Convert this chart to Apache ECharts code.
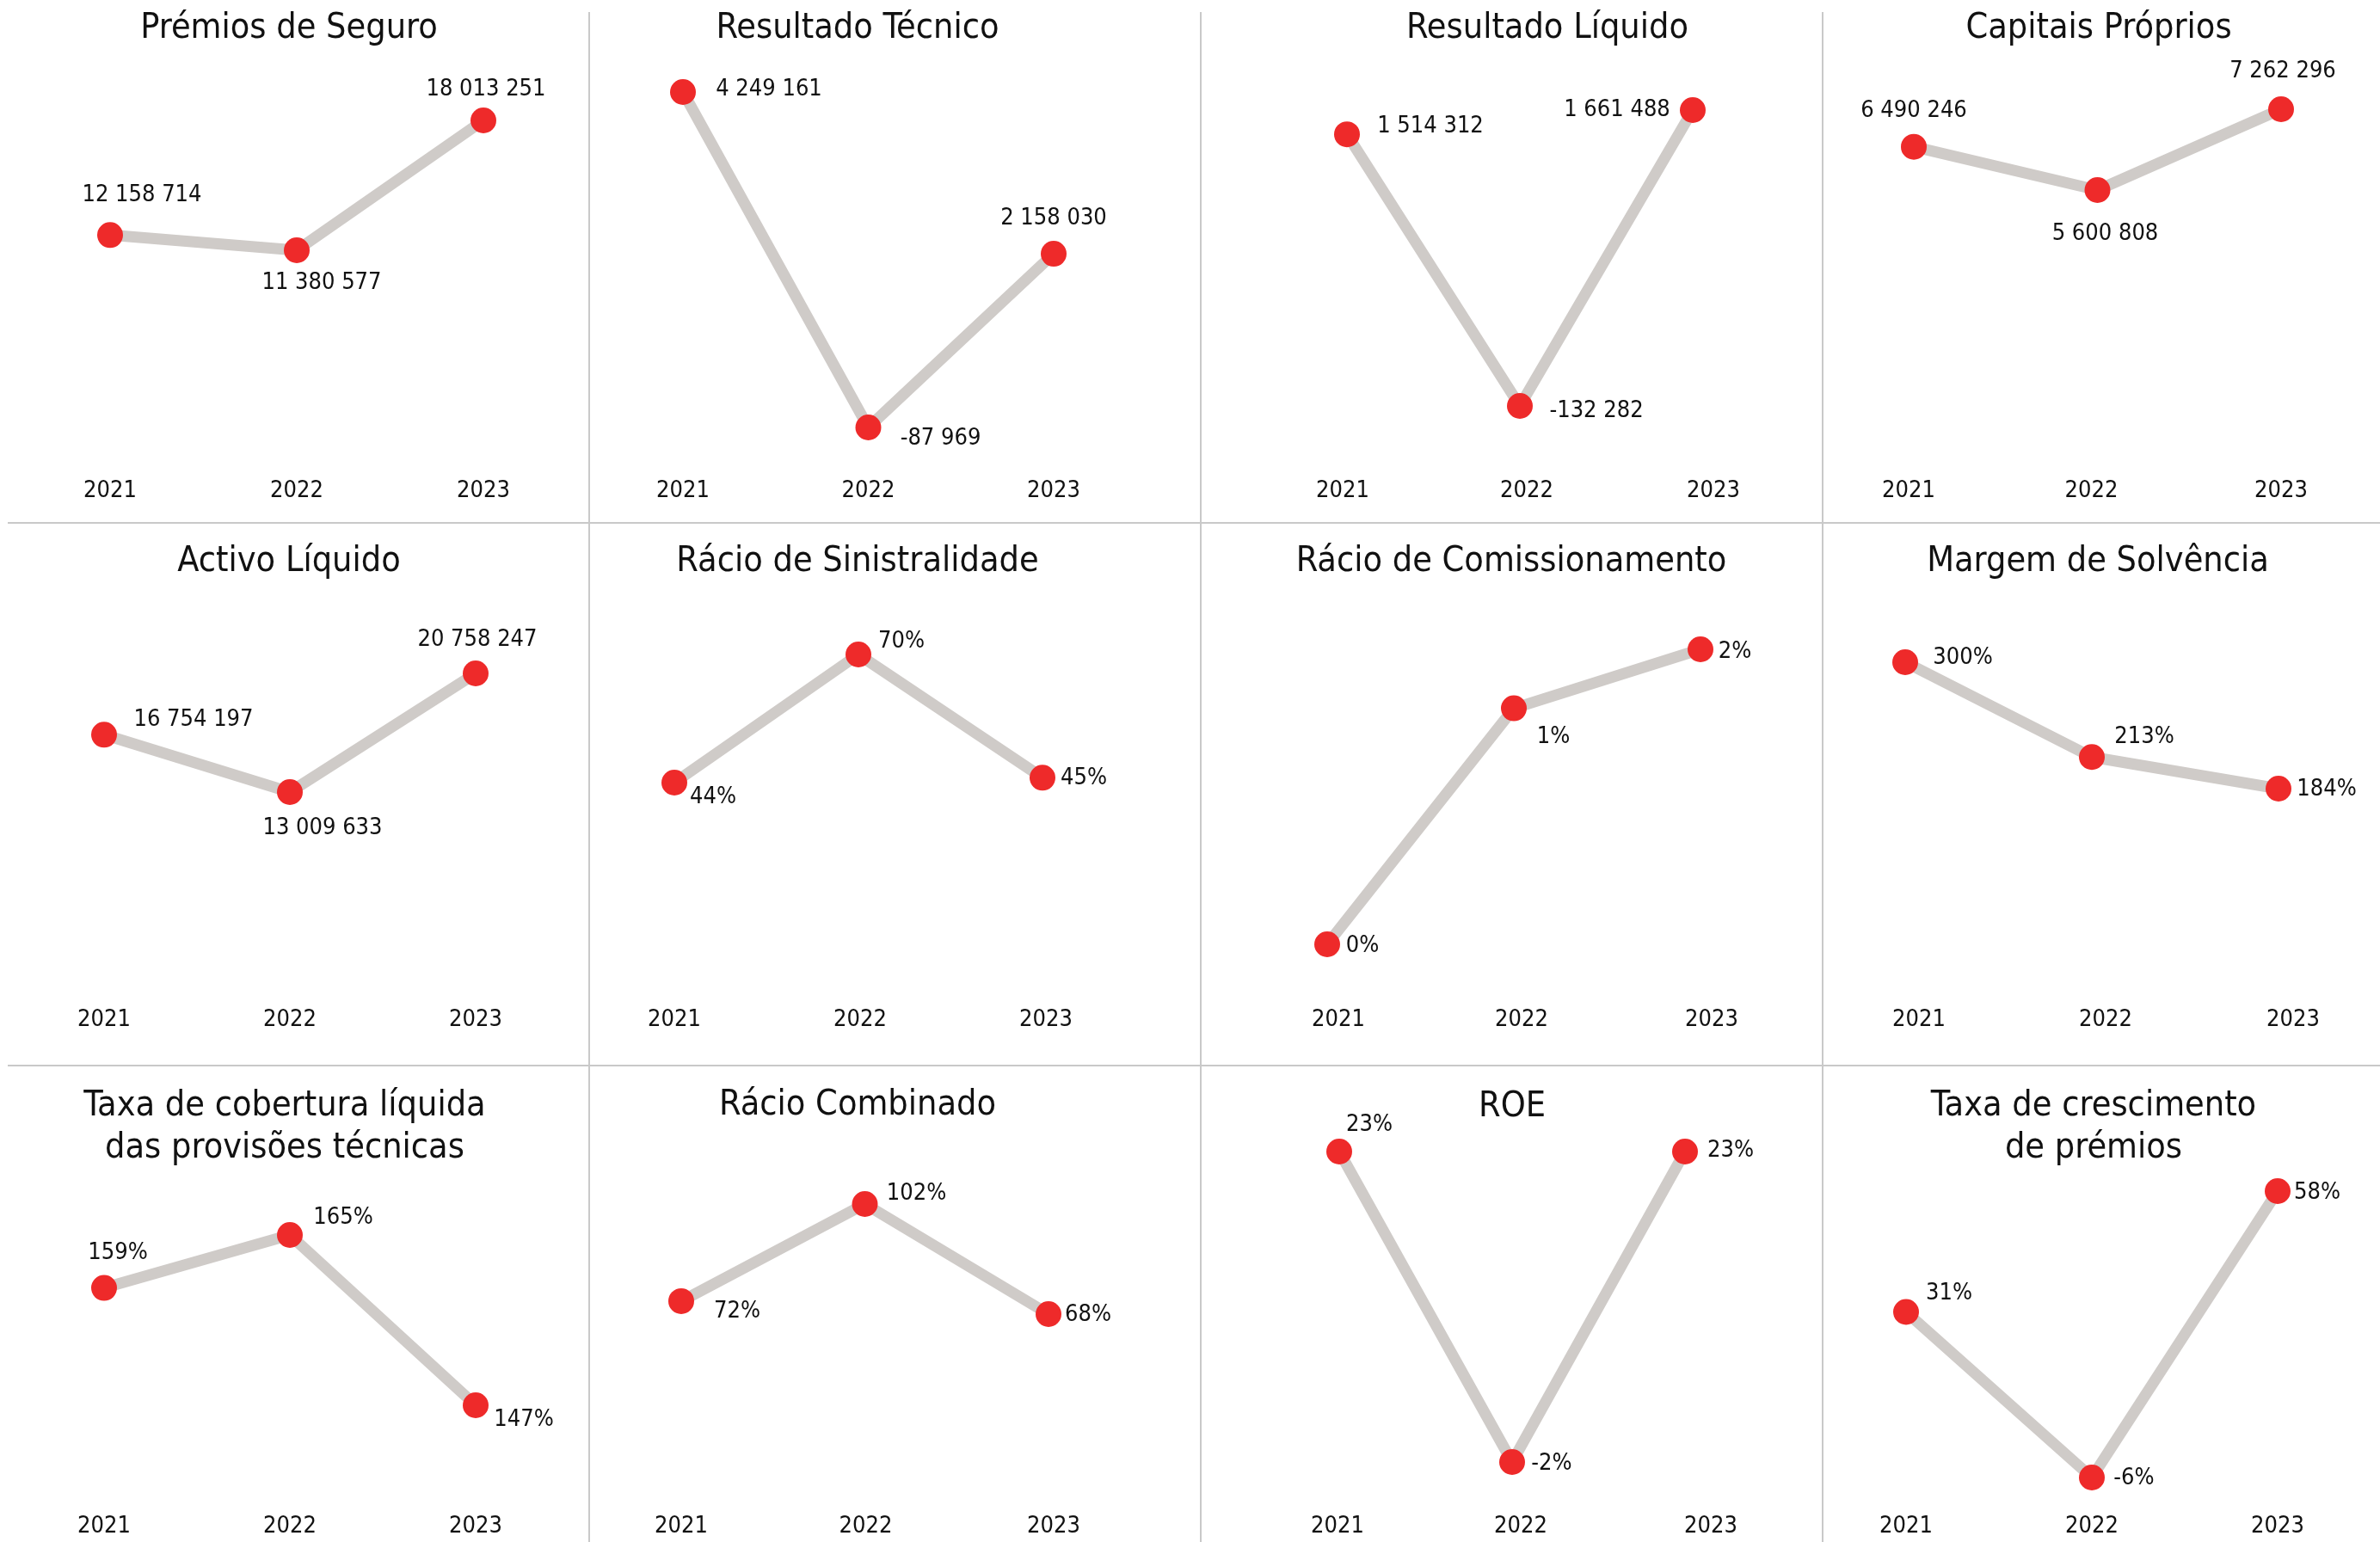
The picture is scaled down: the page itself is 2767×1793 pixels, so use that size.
<!DOCTYPE html>
<html>
<head>
<meta charset="utf-8">
<title>Indicadores 2021-2023</title>
<script src="https://cdn.jsdelivr.net/npm/echarts@6/dist/echarts.min.js"></script>
<style>
  html, body { margin: 0; padding: 0; background: #ffffff; }
  #chart { width: 2767px; height: 1793px; }
</style>
</head>
<body>
<div id="chart"></div>
<script>
// ---- data ----
const years = ['2021', '2022', '2023'];

const premiosSeguro        = [12158714, 11380577, 18013251];
const resultadoTecnico     = [4249161, -87969, 2158030];
const resultadoLiquido     = [1514312, -132282, 1661488];
const capitaisProprios     = [6490246, 5600808, 7262296];
const activoLiquido        = [16754197, 13009633, 20758247];
const racioSinistralidade  = [0.44, 0.70, 0.45];
const racioComissionamento = [0.002, 0.0128, 0.0155];
const margemSolvencia      = [3.00, 2.13, 1.84];
const taxaCobertura        = [1.594, 1.65, 1.47];
const racioCombinado       = [0.72, 1.02, 0.68];
const roe                  = [0.23, -0.02, 0.23];
const taxaCrescimento      = [0.31, -0.06, 0.58];

const titles = [
  'Prémios de Seguro', 'Resultado Técnico', 'Resultado Líquido', 'Capitais Próprios',
  'Activo Líquido', 'Rácio de Sinistralidade', 'Rácio de Comissionamento', 'Margem de Solvência',
  'Taxa de cobertura líquida\ndas provisões técnicas', 'Rácio Combinado', 'ROE', 'Taxa de crescimento\nde prémios'
];

// ---- formatting ----
const fmtInt = v => Math.round(v).toString().replace(/\B(?=(\d{3})+(?!\d))/g, ' ');
const fmtPct = v => Math.round(v * 100) + '%';

// ---- panel layout (pixel boxes of each small chart) ----
// x0/x1: first/last category centre, yTop/yBot: vertical extent of the line, axisY: year labels row,
// tx/ty: title centre, offs: value label offsets from each marker, shift: year label nudges
const panels = [
  { values: premiosSeguro, fmt: fmtInt, x0: 128, x1: 562, yTop: 140, yBot: 291, axisY: 571, tx: 336, ty: 33,
    offs: [[37, -46], [29, 38], [3, -36]], shift: [0, 0, 0] },
  { values: resultadoTecnico, fmt: fmtInt, x0: 794, x1: 1225, yTop: 107, yBot: 497, axisY: 571, tx: 997, ty: 33,
    offs: [[100, -3], [84, 13], [0, -41]], shift: [0, 0, 0] },
  { values: resultadoLiquido, fmt: fmtInt, x0: 1566, x1: 1968, yTop: 128, yBot: 472, axisY: 571, tx: 1799, ty: 33,
    offs: [[97, -9], [89, 6], [-88, 0]], shift: [-5, 8, 24] },
  { values: capitaisProprios, fmt: fmtInt, x0: 2225, x1: 2652, yTop: 127, yBot: 221, axisY: 571, tx: 2440, ty: 33,
    offs: [[0, -42], [9, 51], [2, -44]], shift: [-6, -7, 0] },

  { values: activoLiquido, fmt: fmtInt, x0: 121, x1: 553, yTop: 783, yBot: 921, axisY: 1186, tx: 336, ty: 653,
    offs: [[104, -17], [38, 42], [2, -39]], shift: [0, 0, 0] },
  { values: racioSinistralidade, fmt: fmtPct, x0: 784, x1: 1212, yTop: 761, yBot: 910, axisY: 1186, tx: 997, ty: 653,
    offs: [[45, 17], [50, -15], [48, 1]], shift: [0, 2, 4] },
  { values: racioComissionamento, fmt: fmtPct, x0: 1543, x1: 1977, yTop: 755, yBot: 1098, axisY: 1186, tx: 1757, ty: 653,
    offs: [[41, 2], [46, 33], [40, 3]], shift: [13, 9, 13] },
  { values: margemSolvencia, fmt: fmtPct, x0: 2215, x1: 2649, yTop: 770, yBot: 917, axisY: 1186, tx: 2439, ty: 653,
    offs: [[67, -5], [61, -23], [56, 1]], shift: [16, 16, 17] },

  { values: taxaCobertura, fmt: fmtPct, x0: 121, x1: 553, yTop: 1436, yBot: 1634, axisY: 1775, tx: 331, ty: 1311,
    offs: [[16, -41], [62, -20], [56, 17]], shift: [0, 0, 0] },
  { values: racioCombinado, fmt: fmtPct, x0: 792, x1: 1219, yTop: 1400, yBot: 1528, axisY: 1775, tx: 997, ty: 1285,
    offs: [[65, 12], [60, -12], [46, 1]], shift: [0, 1, 6] },
  { values: roe, fmt: fmtPct, x0: 1557, x1: 1959, yTop: 1339, yBot: 1700, axisY: 1775, tx: 1758, ty: 1287,
    offs: [[35, -31], [46, 2], [53, -1]], shift: [-2, 10, 30] },
  { values: taxaCrescimento, fmt: fmtPct, x0: 2216, x1: 2648, yTop: 1385, yBot: 1718, axisY: 1775, tx: 2434, ty: 1311,
    offs: [[50, -22], [49, 1], [46, 2]], shift: [0, 0, 0] }
];

const FONT = '"DejaVu Sans Condensed", "DejaVu Sans", sans-serif';
const TEXT = '#111111';
const LINE = '#cfcbc8';
const DOT = '#ee2a2a';
const RULE = '#c9c9c9';

const grid = [], xAxis = [], yAxis = [], series = [], graphic = [];

panels.forEach((p, i) => {
  // rich styles that nudge each year label sideways by padding one side
  const rich = {};
  p.shift.forEach((dx, k) => {
    rich['y' + k] = {
      fontSize: 27, fontFamily: FONT, color: TEXT,
      padding: dx >= 0 ? [0, 0, 0, 2 * dx] : [0, -2 * dx, 0, 0]
    };
  });
  grid.push({ left: p.x0, width: p.x1 - p.x0, top: p.yTop, height: p.yBot - p.yTop, containLabel: false });
  xAxis.push({
    type: 'category', gridIndex: i, data: years, boundaryGap: false,
    axisLine: { show: false }, axisTick: { show: false }, splitLine: { show: false },
    axisLabel: {
      fontSize: 27, fontFamily: FONT, color: TEXT, margin: p.axisY - p.yBot, verticalAlign: 'middle',
      formatter: (val, idx) => '{y' + idx + '|' + val + '}',
      rich
    }
  });
  yAxis.push({ type: 'value', gridIndex: i, min: 'dataMin', max: 'dataMax', show: false });
  series.push({
    type: 'line', xAxisIndex: i, yAxisIndex: i,
    data: p.values.map((v, k) => ({ value: v, label: { offset: p.offs[k] } })),
    symbol: 'circle', symbolSize: 30,
    itemStyle: { color: DOT },
    lineStyle: { color: LINE, width: 13 },
    label: {
      show: true, position: 'inside', align: 'center', verticalAlign: 'middle',
      fontSize: 27, fontFamily: FONT, color: TEXT,
      formatter: params => p.fmt(params.value)
    },
    emphasis: { disabled: true },
    silent: true
  });
  graphic.push({
    type: 'text', x: p.tx, y: p.ty, z: 10,
    style: { text: titles[i], fontSize: 41, fontFamily: FONT, fill: TEXT, align: 'center', verticalAlign: 'middle', lineHeight: 49 }
  });
});

// panel separators
[685, 1396, 2119].forEach(x => graphic.push({
  type: 'line', shape: { x1: x, y1: 14, x2: x, y2: 1793 }, style: { stroke: RULE, lineWidth: 2 }
}));
[608, 1239].forEach(y => graphic.push({
  type: 'line', shape: { x1: 9, y1: y, x2: 2767, y2: y }, style: { stroke: RULE, lineWidth: 2 }
}));

const chart = echarts.init(document.getElementById('chart'), null, { renderer: 'canvas' });
chart.setOption({
  backgroundColor: '#ffffff',
  animation: false,
  grid, xAxis, yAxis, series, graphic
});
</script>
</body>
</html>
